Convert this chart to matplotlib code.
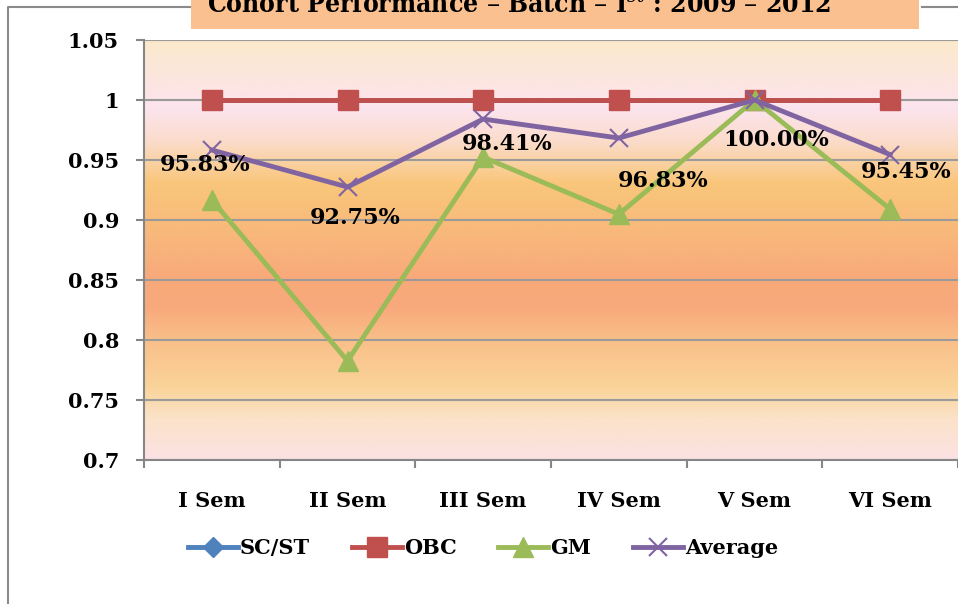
import matplotlib
matplotlib.use("Agg")
import matplotlib.pyplot as plt
import numpy as np
from matplotlib.colors import LinearSegmentedColormap
from matplotlib.lines import Line2D
from matplotlib.patches import Rectangle

categories = ["I Sem", "II Sem", "III Sem", "IV Sem", "V Sem", "VI Sem"]
sc_st = [1.0, 1.0, 1.0, 1.0, 1.0, 1.0]
obc = [1.0, 1.0, 1.0, 1.0, 1.0, 1.0]
gm = [0.9167, 0.7826, 0.9524, 0.9048, 1.0, 0.9091]
average = [0.9583, 0.9275, 0.9841, 0.9683, 1.0, 0.9545]
avg_labels = ["95.83%", "92.75%", "98.41%", "96.83%", "100.00%", "95.45%"]
ytick_vals = [0.7, 0.75, 0.8, 0.85, 0.9, 0.95, 1.0, 1.05]
ytick_labels = ["0.7", "0.75", "0.8", "0.85", "0.9", "0.95", "1", "1.05"]
title = "Cohort Performance – Batch – I$^{st}$ : 2009 – 2012"

FONT = "DejaVu Serif"
plt.rcParams["mathtext.fontset"] = "dejavuserif"

W, H = 958, 604
fig = plt.figure(figsize=(W / 100, H / 100), dpi=100)
fig.patch.set_facecolor("white")

ax = fig.add_axes([144 / W, 1 - 460 / H, 814 / W, 420 / H])
x = np.arange(len(categories))
ax.set_xlim(-0.5, len(categories) - 0.5)
ax.set_ylim(0.7, 1.05)

# gradient background
stops = [(0.0, "#FCE2E4"), (0.1, "#FBE2C8"), (0.17, "#FAD49A"), (0.29, "#F9BE88"),
         (0.36, "#F8AA7C"), (0.43, "#F8A97A"), (0.57, "#F8BC7C"), (0.66, "#F9C67A"),
         (0.76, "#FBDCCB"), (0.84, "#FCE4EE"), (0.92, "#FCE6DC"), (1.0, "#FBE9CC")]
cmap = LinearSegmentedColormap.from_list("bg", stops)
grad = np.linspace(0, 1, 256).reshape(-1, 1)
ax.imshow(grad, aspect="auto", cmap=cmap, origin="lower",
          extent=(0, 1, 0, 1), transform=ax.transAxes, zorder=0)

ax.set_yticks(ytick_vals)
ax.set_yticklabels(ytick_labels, fontfamily=FONT, fontweight="bold", fontsize=15)
ax.yaxis.grid(True, color="#9A9A9A", linewidth=1.5, zorder=1)
ax.set_axisbelow(True)
ax.set_xticks(x)
ax.set_xticklabels(categories, fontfamily=FONT, fontweight="bold", fontsize=15)
ax.set_xticks(np.arange(-0.5, len(categories)), minor=True)
ax.tick_params(axis="x", which="major", length=0, pad=22)
ax.tick_params(axis="x", which="minor", length=6, width=1.5, color="#868686")
ax.tick_params(axis="y", length=6, width=1.5, color="#868686", pad=12)
for s in ["top", "right"]:
    ax.spines[s].set_visible(False)
for s in ["left", "bottom"]:
    ax.spines[s].set_color("#868686")
    ax.spines[s].set_linewidth(1.5)

lw = 3.5
ax.plot(x, sc_st, color="#4F81BD", lw=lw, marker="D", ms=10, zorder=3, label="SC/ST")
ax.plot(x, obc, color="#C0504D", lw=lw, marker="s", ms=14, zorder=4, label="OBC")
ax.plot(x, gm, color="#9BBB59", lw=lw, marker="^", ms=15, zorder=5, label="GM")
ax.plot(x, average, color="#8064A2", lw=lw, marker="x", ms=13, mew=1.5, zorder=6, label="Average")

offsets = [(-7, -15), (8, -31), (24, -25), (44, -43), (22, -40), (16, -17)]
for xi, yi, lab, (dx, dy) in zip(x, average, avg_labels, offsets):
    ax.annotate(lab, (xi, yi), xytext=(dx * 0.72, dy * 0.72), textcoords="offset points",
                ha="center", va="center", fontfamily=FONT, fontweight="bold",
                fontsize=16, zorder=7, annotation_clip=False)

# outer frame
fig.add_artist(Line2D([8 / W, 8 / W, 190 / W], [0, 1 - 7 / H, 1 - 7 / H],
                      color="#8A8A8A", lw=1.5, transform=fig.transFigure))
fig.add_artist(Line2D([922 / W, 1], [1 - 7 / H, 1 - 7 / H],
                      color="#8A8A8A", lw=1.5, transform=fig.transFigure))
fig.add_artist(Rectangle((191 / W, 1 - 29 / H), 728 / W, 29 / H, facecolor="#FAC090",
                         edgecolor="none", transform=fig.transFigure))
fig.text(519 / W, 1 - 14 / H, title, ha="center", va="baseline", fontfamily=FONT,
         fontweight="bold", fontsize=19, fontstretch="condensed")

leg = fig.legend(loc="center", bbox_to_anchor=(483 / W, 1 - 548 / H), ncol=4, frameon=False,
                 prop={"family": FONT, "weight": "bold", "size": 15},
                 handlelength=2.4, handletextpad=0.1, columnspacing=2.0)

fig.savefig("out.png", dpi=100)
